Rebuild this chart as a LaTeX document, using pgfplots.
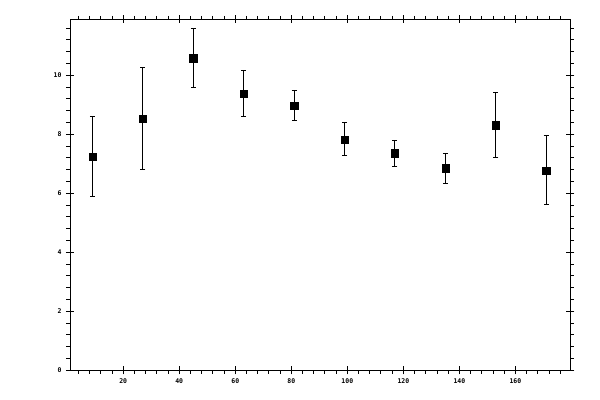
\documentclass[border=0pt]{standalone}
\usepackage{fontspec}
\setmainfont{DejaVu Sans Mono}
\usepackage{pgfplots}
\pgfplotsset{compat=1.18}

\begin{document}
\begin{tikzpicture}
\begin{axis}[
    name=ax,
    scale only axis,
    width=500.3bp, height=351bp,
    xmin=1, xmax=179.6,
    ymin=0, ymax=11.9,
    xtick={20,40,...,160},
    ytick={0,2,...,10},
    extra x ticks={4,8,12,16,24,28,32,36,44,48,52,56,64,68,72,76,84,88,92,96,104,108,112,116,124,128,132,136,144,148,152,156,164,168,172,176},
    extra y ticks={0.4,0.8,1.2,1.6,2.4,2.8,3.2,3.6,4.4,4.8,5.2,5.6,6.4,6.8,7.2,7.6,8.4,8.8,9.2,9.6,10.4,10.8,11.2,11.6},
    extra x tick labels={},
    extra y tick labels={},
    extra tick style={tick align=outside, major tick length=3.5bp},
    tick align=center,
    major tick length=8bp,
    xtick pos=both, ytick pos=both,
    axis line style={line width=0.9bp},
    every tick/.style={black, line width=0.9bp},
    /pgf/number format/assume math mode=true,
    tick label style={font=\fontsize{6.5}{7}\selectfont\bfseries},
    xticklabel style={yshift=-1bp},
    yticklabel style={xshift=-1bp},
]
\addplot[
    only marks,
    mark=square*,
    mark size=3.6bp,
    black,
    error bars/.cd,
    y dir=both, y explicit,
    error bar style={line width=0.9bp, black},
    error mark options={rotate=90, mark size=2.5bp, line width=0.9bp, black},
] coordinates {
    (9,7.25)    +- (0,1.36)
    (27,8.54)   +- (0,1.73)
    (45,10.58)  +- (0,1.00)
    (63,9.39)   +- (0,0.78)
    (81,8.98)   +- (0,0.52)
    (99,7.83)   +- (0,0.56)
    (117,7.36)  +- (0,0.44)
    (135,6.85)  +- (0,0.50)
    (153,8.31)  +- (0,1.10)
    (171,6.78)  +- (0,1.17)
};
\end{axis}
\path[use as bounding box] ([shift={(-70bp,-29.7bp)}]ax.south west) rectangle ([shift={(29.7bp,19.3bp)}]ax.north east);
\end{tikzpicture}
\end{document}
